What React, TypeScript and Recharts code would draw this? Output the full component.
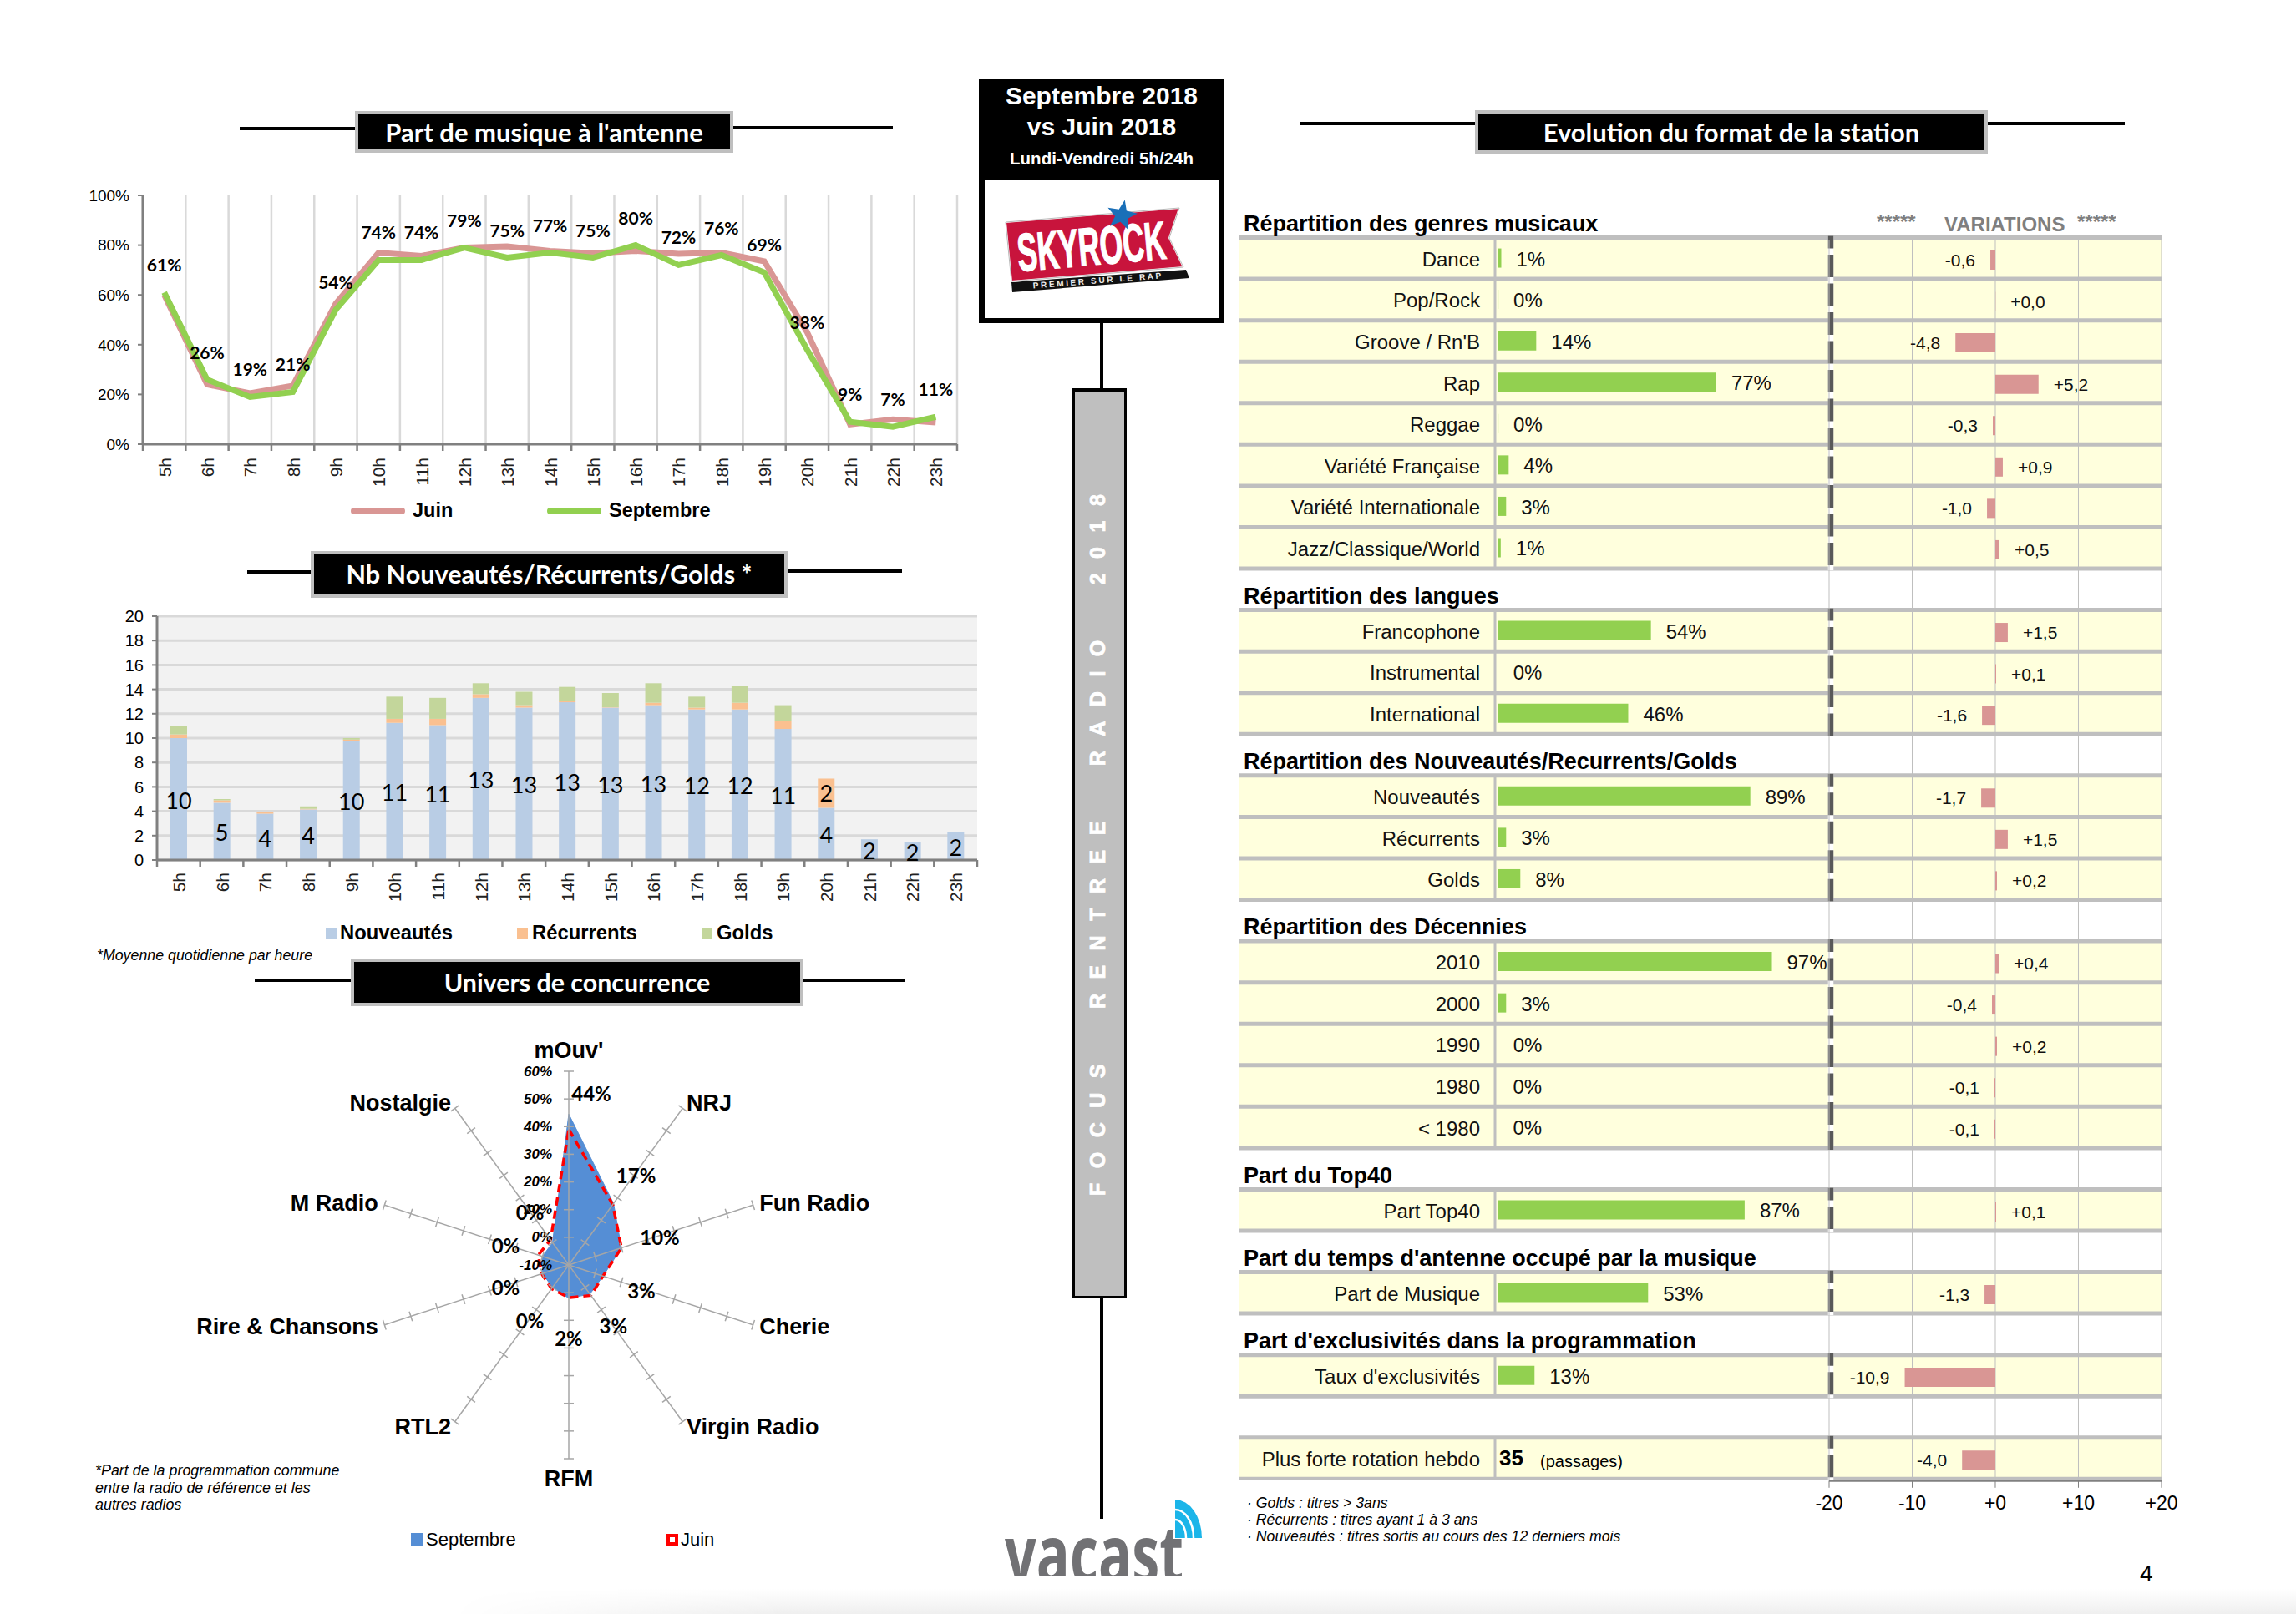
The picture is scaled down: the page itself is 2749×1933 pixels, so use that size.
import React from 'react';
import {
  LineChart, Line, BarChart, Bar, RadarChart, Radar, PolarAngleAxis, PolarRadiusAxis,
  XAxis, YAxis, CartesianGrid, Legend, LabelList, ReferenceArea,
} from 'recharts';

const ARIAL = '"Liberation Sans", Arial, sans-serif';
const CALIBRI = 'Lato, sans-serif';
const PINK = '#D99694';
const GREEN = '#92D050';

const HOURS = ['5h', '6h', '7h', '8h', '9h', '10h', '11h', '12h', '13h', '14h', '15h', '16h', '17h', '18h', '19h', '20h', '21h', '22h', '23h'];

// part de musique
const JUIN = [60, 24, 20.5, 23.5, 56.5, 77, 75.7, 79, 79.5, 77.7, 76.8, 77.7, 76.5, 77, 73.5, 45, 8, 10, 8.7];
const SEPTEMBRE = [61, 26, 19, 21, 54, 74, 74, 79, 75, 77, 75, 80, 72, 76, 69, 38, 9, 7, 11];

// nouveautes / recurrents / golds
const NOUVEAUTES = [10, 4.7, 3.8, 4.15, 9.77, 11.25, 11.06, 13.3, 12.5, 12.94, 12.5, 12.7, 12.35, 12.35, 10.75, 4.28, 1.7, 1.5, 2.28];
const RECURRENTS = [0.3, 0.2, 0.13, 0.05, 0.11, 0.33, 0.52, 0.3, 0.2, 0.12, 0.03, 0.2, 0.15, 0.55, 0.65, 2.4, 0, 0, 0];
const GOLDS = [0.7, 0.1, 0.02, 0.2, 0.12, 1.82, 1.72, 0.9, 1.1, 1.14, 1.17, 1.6, 0.9, 1.4, 1.3, 0, 0, 0, 0];

// univers de concurrence
const RADIOS = ["mOuv'", 'NRJ', 'Fun Radio', 'Cherie', 'Virgin Radio', 'RFM', 'RTL2', 'Rire & Chansons', 'M Radio', 'Nostalgie'];
const UNIVERS_SEPT = [44.5, 17.5, 10, 3, 3, 2, 0, 0, 0, 0];
const UNIVERS_JUIN = [39, 17, 10, 3, 3.6, 1.8, 0.6, 0.3, 1.6, 1.2];
const UNIVERS_LABELS = ['44%', '17%', '10%', '3%', '3%', '2%', '0%', '0%', '0%', '0%'];
const UNIVERS_LABEL_SHIFT = [[27, -25], [27, -34], [46, -13], [46, 17], [28, 38], [0, 48], [-27, 40], [-44, 16], [-44, -13], [-27, -37]];

// tableau de droite : une ligne par rangee, null = pas de barre
const ROW_LABELS = [
  'Répartition des genres musicaux', 'Dance', 'Pop/Rock', "Groove / Rn'B", 'Rap', 'Reggae', 'Variété Française', 'Variété Internationale', 'Jazz/Classique/World',
  'Répartition des langues', 'Francophone', 'Instrumental', 'International',
  'Répartition des Nouveautés/Recurrents/Golds', 'Nouveautés', 'Récurrents', 'Golds',
  'Répartition des Décennies', '2010', '2000', '1990', '1980', '< 1980',
  'Part du Top40', 'Part Top40',
  "Part du temps d'antenne occupé par la musique", 'Part de Musique',
  "Part d'exclusivités dans la programmation", "Taux d'exclusivités",
  ' ', 'Plus forte rotation hebdo',
];
const SHARES = [
  null, 1.3, 0.3, 13.6, 77, 0.3, 3.9, 3, 1.1,
  null, 54, 0.2, 46,
  null, 89, 3, 8,
  null, 96.6, 3, 0.2, 0.1, 0.1,
  null, 87,
  null, 53,
  null, 13,
  null, null,
];
const DELTAS = [
  null, -0.6, 0.02, -4.8, 5.2, -0.3, 0.9, -1.0, 0.5,
  null, 1.5, 0.1, -1.6,
  null, -1.7, 1.5, 0.2,
  null, 0.4, -0.4, 0.2, -0.1, -0.1,
  null, 0.1,
  null, -1.3,
  null, -10.9,
  null, -4.0,
];
const HEADER_ROWS = [0, 9, 13, 17, 23, 25, 27];
const ROW_GROUPS = [[1, 8], [10, 12], [14, 16], [18, 22], [24, 24], [26, 26], [28, 28], [30, 30]];
const DELTA_TICKS = [-20, -10, 0, 10, 20];
const FOOTNOTES = ['Golds : titres > 3ans', 'Récurrents : titres ayant 1 à 3 ans', 'Nouveautés : titres sortis au cours des 12 derniers mois'];

const lineData = HOURS.map((h, i) => ({ h, juin: JUIN[i], sept: SEPTEMBRE[i] }));
const barData = HOURS.map((h, i) => ({ h, n: NOUVEAUTES[i], r: RECURRENTS[i], g: GOLDS[i] }));
const radarData = RADIOS.map((radio, i) => ({ radio, sept: UNIVERS_SEPT[i], juin: UNIVERS_JUIN[i] }));
const tableData = ROW_LABELS.map((label, i) => ({ label, share: SHARES[i], delta: DELTAS[i] }));

const ROW_H = 49.56;

const fmtDelta = (v: any) => {
  if (v === null || v === undefined) return '';
  const s = Math.abs(v).toFixed(1).replace('.', ',');
  return v < 0 ? `-${s}` : `+${s}`;
};

const Abs = ({ x, y, color = '#000', font = ARIAL, size, bold, italic, align, children }: any) => (
  <div style={{
    position: 'absolute', left: align === 'center' ? x - 500 : x, top: y - 30, height: 60, lineHeight: '60px',
    width: align === 'center' ? 1000 : undefined, textAlign: align === 'center' ? 'center' : 'left',
    fontFamily: font, fontSize: size, fontWeight: bold ? 700 : 400, fontStyle: italic ? 'italic' : 'normal',
    color, whiteSpace: 'pre',
  }}>{children}</div>
);

const Rule = ({ x1, x2, y, h = 4 }: any) => (
  <div style={{ position: 'absolute', left: x1, top: y - h / 2, width: x2 - x1, height: h, background: '#000' }} />
);

const TitleBox = ({ x1, x2, y1, y2, lineX1, lineX2, lineY, text, size }: any) => (
  <>
    <Rule x1={lineX1} x2={lineX2} y={lineY} />
    <div style={{
      position: 'absolute', left: x1, top: y1, width: x2 - x1, height: y2 - y1, boxSizing: 'border-box',
      background: '#000', border: '4px solid #BFBFBF', color: '#fff', fontFamily: CALIBRI, fontWeight: 700,
      fontSize: size, textAlign: 'center', lineHeight: `${y2 - y1 - 8}px`,
    }}>{text}</div>
  </>
);

const HourTick = ({ x, y, payload, index, band, drop }: any) => (
  <g>
    <line x1={x - band / 2} x2={x - band / 2} y1={y} y2={y + 8} stroke="#808080" strokeWidth={2.5} />
    {index === HOURS.length - 1 && <line x1={x + band / 2} x2={x + band / 2} y1={y} y2={y + 8} stroke="#808080" strokeWidth={2.5} />}
    <text x={x + 8} y={y + drop} textAnchor="end" transform={`rotate(-90 ${x + 8} ${y + drop})`} fontFamily={ARIAL} fontSize={21} fill="#222">
      {payload.value}
    </text>
  </g>
);

const LEFT_1 = 171;
const RIGHT_1 = 1146;
const BAND_1 = (RIGHT_1 - LEFT_1) / HOURS.length;
const gridX1 = Array.from({ length: HOURS.length + 1 }, (_, i) => LEFT_1 + i * BAND_1);

const MusicLegend = () => (
  <>
    <div style={{ position: 'absolute', left: 420, top: 608, width: 65, height: 8, borderRadius: 4, background: PINK }} />
    <Abs x={494} y={611} size={23.5} bold>Juin</Abs>
    <div style={{ position: 'absolute', left: 655, top: 608, width: 65, height: 8, borderRadius: 4, background: GREEN }} />
    <Abs x={729} y={611} size={23.5} bold>Septembre</Abs>
  </>
);

const MusicChart = () => (
  <div style={{ position: 'absolute', left: 0, top: 0 }}>
    <LineChart width={1200} height={660} data={lineData} margin={{ left: LEFT_1 - 50, top: 234, right: 1200 - RIGHT_1, bottom: 68 }}>
      <CartesianGrid horizontal={false} verticalPoints={gridX1} stroke="#D9D9D9" strokeWidth={2.5} />
      <XAxis dataKey="h" interval={0} height={60} tickSize={0} tickMargin={0} tickLine={false}
        padding={{ left: BAND_1 / 2, right: BAND_1 / 2 }}
        axisLine={{ stroke: '#808080', strokeWidth: 3 }}
        tick={(p: any) => <HourTick {...p} band={BAND_1} drop={16} />} />
      <YAxis width={50} domain={[0, 100]} ticks={[0, 20, 40, 60, 80, 100]} tickSize={6} tickMargin={10}
        tickFormatter={(v: number) => `${v}%`}
        axisLine={{ stroke: '#808080', strokeWidth: 3 }} tickLine={{ stroke: '#808080', strokeWidth: 2 }}
        tick={{ fontFamily: ARIAL, fontSize: 19, fill: '#000' }} />
      <Line dataKey="juin" stroke={PINK} strokeWidth={7} dot={false} isAnimationActive={false} />
      <Line dataKey="sept" stroke={GREEN} strokeWidth={7} dot={false} isAnimationActive={false}>
        <LabelList dataKey="sept" position="top" offset={25} formatter={(v: any) => `${v}%`}
          fontFamily={CALIBRI} fontWeight={700} fontSize={21} fill="#000" />
      </Line>
      <Legend content={() => <MusicLegend />} wrapperStyle={{ position: 'absolute', left: 0, top: 0, width: 0, height: 0 }} />
    </LineChart>
  </div>
);

const LEFT_2 = 188;
const RIGHT_2 = 1170;
const BAND_2 = (RIGHT_2 - LEFT_2) / HOURS.length;

const NbLegend = () => (
  <>
    {[[390, 407, '#B9CDE5', 'Nouveautés'], [619, 637, '#FAC090', 'Récurrents'], [840, 858, '#C3D69B', 'Golds']].map(([sx, tx, c, t]: any) => (
      <React.Fragment key={t}>
        <div style={{ position: 'absolute', left: sx, top: 1111, width: 13, height: 13, background: c }} />
        <Abs x={tx} y={1117} size={23.8} bold>{t}</Abs>
      </React.Fragment>
    ))}
  </>
);

const NbChart = () => (
  <div style={{ position: 'absolute', left: 0, top: 0 }}>
    <BarChart width={1200} height={1100} data={barData} barSize={20} margin={{ left: LEFT_2 - 50, top: 738, right: 1200 - RIGHT_2, bottom: 10 }}>
      <CartesianGrid vertical={false} fill="#F2F2F2" stroke="#D9D9D9" strokeWidth={3} />
      <XAxis dataKey="h" interval={0} height={60} tickSize={0} tickMargin={0} tickLine={false}
        axisLine={{ stroke: '#808080', strokeWidth: 3 }}
        tick={(p: any) => <HourTick {...p} band={BAND_2} drop={15} />} />
      <YAxis width={50} domain={[0, 20]} ticks={[0, 2, 4, 6, 8, 10, 12, 14, 16, 18, 20]} tickSize={6} tickMargin={10}
        axisLine={{ stroke: '#808080', strokeWidth: 3 }} tickLine={{ stroke: '#808080', strokeWidth: 2 }}
        tick={{ fontFamily: ARIAL, fontSize: 20, fill: '#000' }} />
      <Bar dataKey="n" stackId="a" fill="#B9CDE5" isAnimationActive={false}>
        <LabelList dataKey="n" position="center" formatter={(v: any) => Math.round(v)} fontFamily={CALIBRI} fontSize={27} fill="#000" dy={2} />
      </Bar>
      <Bar dataKey="r" stackId="a" fill="#FAC090" isAnimationActive={false}>
        <LabelList dataKey="r" position="center" formatter={(v: any) => (v >= 1 ? Math.round(v) : '')} fontFamily={CALIBRI} fontSize={27} fill="#000" />
      </Bar>
      <Bar dataKey="g" stackId="a" fill="#C3D69B" isAnimationActive={false} />
      <Legend content={() => <NbLegend />} wrapperStyle={{ position: 'absolute', left: 0, top: 0, width: 0, height: 0 }} />
    </BarChart>
  </div>
);

const RADAR_X = 200;
const RADAR_Y = 1200;
const CX = 681 - RADAR_X;
const CY = 1515 - RADAR_Y;
const RADAR_R = 232;

const RadioTick = ({ x, y, payload, index, textAnchor }: any) => {
  let dy = 0;
  if (index === 0) dy = -17;
  if (index === 5) dy = 16;
  return (
    <text x={x} y={y + dy} textAnchor={textAnchor} dominantBaseline="central" fontFamily={ARIAL} fontWeight={700} fontSize={27} fill="#000">
      {payload.value}
    </text>
  );
};

// le rayon porte les graduations : on les repete sur chaque branche de l'etoile
const SpokeTick = ({ y, payload }: any) => {
  const r = CY - y;
  return (
    <g>
      {RADIOS.map((name, i) => {
        const a = (i * 36 * Math.PI) / 180;
        const px = CX + r * Math.sin(a);
        const py = CY - r * Math.cos(a);
        const dx = 6 * Math.cos(a);
        const dy = 6 * Math.sin(a);
        return (
          <g key={name}>
            {payload.value === 60 && <line x1={CX} y1={CY} x2={px} y2={py} stroke="#A6A6A6" strokeWidth={1.5} />}
            {payload.value > -10 && <line x1={px - dx} y1={py - dy} x2={px + dx} y2={py + dy} stroke="#A6A6A6" strokeWidth={1.5} />}
          </g>
        );
      })}
      <text x={CX - 20} y={y} textAnchor="end" dominantBaseline="central" fontFamily={ARIAL} fontWeight={700} fontStyle="italic" fontSize={17} fill="#000">
        {payload.value}%
      </text>
    </g>
  );
};

const UniversLabel = (p: any) => {
  const shift = UNIVERS_LABEL_SHIFT[p.index];
  if (!shift) return null;
  return (
    <text x={p.x + shift[0]} y={p.y + shift[1]} textAnchor="middle" dominantBaseline="central" fontFamily={CALIBRI} fontWeight={700} fontSize={24} fill="#000">
      {UNIVERS_LABELS[p.index]}
    </text>
  );
};

const UniversLegend = () => (
  <>
    <div style={{ position: 'absolute', left: 492 - RADAR_X, top: 1836 - RADAR_Y, width: 15, height: 15, background: '#558ED5' }} />
    <Abs x={510 - RADAR_X} y={1844 - RADAR_Y} size={22}>Septembre</Abs>
    <div style={{ position: 'absolute', left: 798 - RADAR_X, top: 1837 - RADAR_Y, width: 14, height: 14, boxSizing: 'border-box', border: '4px solid #FF0000' }} />
    <Abs x={815 - RADAR_X} y={1844 - RADAR_Y} size={22}>Juin</Abs>
  </>
);

const UniversChart = () => (
  <div style={{ position: 'absolute', left: RADAR_X, top: RADAR_Y }}>
    <RadarChart width={960} height={680} data={radarData} cx={CX} cy={CY} outerRadius={RADAR_R} margin={{ left: 0, right: 0, top: 0, bottom: 0 }}>
      <PolarAngleAxis dataKey="radio" tickLine={false} axisLine={false} tick={(p: any) => <RadioTick {...p} />} />
      <Radar dataKey="sept" fill="#558ED5" fillOpacity={1} stroke="#558ED5" isAnimationActive={false} label={UniversLabel} />
      <Radar dataKey="juin" fill="none" fillOpacity={0} stroke="#FF0000" strokeWidth={3.5} strokeDasharray="10 6" isAnimationActive={false} />
      <PolarRadiusAxis angle={90} domain={[-10, 60]} ticks={[-10, 0, 10, 20, 30, 40, 50, 60]} tickCount={8}
        axisLine={false} tick={(p: any) => <SpokeTick {...p} />} />
      <Legend content={() => <UniversLegend />} wrapperStyle={{ position: 'absolute', left: 0, top: 0, width: 0, height: 0 }} />
    </RadarChart>
  </div>
);

const TABLE_X = 1483;
const TABLE_Y = 235.4;
const TABLE_W = 1105;

const RowTick = ({ y, payload, index }: any) => {
  if (HEADER_ROWS.includes(index)) {
    return <text x={6} y={y + 8} dominantBaseline="central" fontFamily={ARIAL} fontWeight={700} fontSize={27} fill="#000">{payload.value}</text>;
  }
  return <text x={289} y={y + 1} textAnchor="end" dominantBaseline="central" fontFamily={ARIAL} fontSize={24} fill="#111">{payload.value}</text>;
};

const GroupShape = ({ x, y, width, height }: any) => {
  const n = Math.round(height / ROW_H);
  return (
    <g>
      <rect x={x} y={y} width={width} height={height} fill="#FFFFDD" />
      <line x1={x + 307} x2={x + 307} y1={y} y2={y + height} stroke="#BFBFBF" strokeWidth={3} />
      {Array.from({ length: n + 1 }, (_, k) => (
        <line key={k} x1={x} x2={x + width} y1={y + k * ROW_H} y2={y + k * ROW_H} stroke="#BFBFBF" strokeWidth={5} />
      ))}
      <line x1={x + 709} x2={x + 709} y1={y - 2} y2={y + height + 2} stroke="#fff" strokeWidth={6.5} />
      <line x1={x + 709} x2={x + 709} y1={y - 2} y2={y + height + 2} stroke="#595959" strokeWidth={6.5} strokeDasharray="27 7.5" strokeDashoffset={12} />
    </g>
  );
};

const SharesChart = () => (
  <div style={{ position: 'absolute', left: TABLE_X, top: TABLE_Y }}>
    <BarChart width={TABLE_W} height={ROW_H * ROW_LABELS.length} data={tableData} layout="vertical" barSize={23} margin={{ left: 0, right: 0, top: 0, bottom: 0 }}>
      <XAxis type="number" hide domain={[-91.2, 233.8]} />
      <YAxis type="category" dataKey="label" mirror interval={0} axisLine={false} tickLine={false} tick={(p: any) => <RowTick {...p} />} />
      {ROW_GROUPS.map(([a, b]) => (
        <ReferenceArea key={a} y1={ROW_LABELS[a]} y2={ROW_LABELS[b]} shape={(p: any) => <GroupShape {...p} />} />
      ))}
      <Bar dataKey="share" fill={GREEN} isAnimationActive={false}>
        <LabelList dataKey="share" position="right" offset={18} dy={1} formatter={(v: any) => (v === null || v === undefined ? '' : `${Math.round(v)}%`)}
          fontFamily={ARIAL} fontSize={24} fill="#111" />
      </Bar>
    </BarChart>
  </div>
);

const DeltasChart = () => (
  <div style={{ position: 'absolute', left: 2090, top: TABLE_Y + ROW_H + 2 }}>
    <BarChart width={540} height={ROW_H * 30 + 50} data={tableData.slice(1)} layout="vertical" barSize={23} margin={{ left: 100, right: 42, top: 0, bottom: 0 }}>
      <CartesianGrid horizontal={false} stroke="#BFBFBF" strokeWidth={1} />
      <XAxis type="number" domain={[-20, 20]} ticks={DELTA_TICKS} height={50} tickSize={8} tickMargin={10} interval={0}
        tickFormatter={(v: number) => (v < 0 ? `${v}` : `+${v}`)}
        axisLine={{ stroke: '#808080', strokeWidth: 2 }} tickLine={{ stroke: '#808080', strokeWidth: 1 }}
        tick={{ fontFamily: ARIAL, fontSize: 23, fill: '#000' }} />
      <YAxis type="category" dataKey="label" hide />
      <Bar dataKey="delta" fill={PINK} isAnimationActive={false}>
        <LabelList dataKey="delta" position="right" offset={18} formatter={fmtDelta} fontFamily={ARIAL} fontSize={21} fill="#111" />
      </Bar>
    </BarChart>
  </div>
);

const starPoints = (cx: number, cy: number, r: number) =>
  Array.from({ length: 10 }, (_, i) => {
    const rad = i % 2 === 0 ? r : r * 0.42;
    const a = (Math.PI * i) / 5 + 0.2;
    return `${cx + rad * Math.sin(a)},${cy - rad * Math.cos(a)}`;
  }).join(' ');

const CenterColumn = () => (
  <>
    <div style={{ position: 'absolute', left: 1172, top: 95, width: 294, height: 292, background: '#000' }} />
    <div style={{ position: 'absolute', left: 1179, top: 215, width: 280, height: 166, background: '#fff' }} />
    <Abs x={1319} y={115} size={30} bold align="center" color="#fff">Septembre 2018</Abs>
    <Abs x={1319} y={152} size={30} bold align="center" color="#fff">vs Juin 2018</Abs>
    <Abs x={1319} y={190} size={20.5} bold align="center" color="#fff">Lundi-Vendredi 5h/24h</Abs>
    <div style={{ position: 'absolute', left: 1317, top: 387, width: 4, height: 78, background: '#000' }} />
    <div style={{ position: 'absolute', left: 1317, top: 1555, width: 4, height: 264, background: '#000' }} />
    <div style={{ position: 'absolute', left: 1284, top: 465, width: 65, height: 1090, boxSizing: 'border-box', background: '#BFBFBF', border: '3px solid #000', borderTopWidth: 4 }} />
    <svg width={2749} height={1933} style={{ position: 'absolute', left: 0, top: 0 }}>
      <polygon points="1211,338 1420,323 1424,333 1212,350" fill="#111" />
      <polygon points="1204,266 1412,249 1400,285 1417,320 1211,337" fill="#C8143C" stroke="#fff" strokeWidth={2} />
      <polygon points="1204,266 1412,249 1400,285 1417,320 1211,337" fill="none" stroke="#B9B9B9" strokeWidth={1} />
      <text x={0} y={0} transform="translate(1220 325) rotate(-5)" fontFamily={ARIAL} fontWeight={700} fontSize={64} fill="#fff" stroke="#fff" strokeWidth={1.5}
        textLength={178} lengthAdjust="spacingAndGlyphs">SKYROCK</text>
      <text x={0} y={0} transform="translate(1237 345.5) rotate(-4.5)" fontFamily={ARIAL} fontWeight={700} fontSize={10} fill="#eee"
        textLength={154} lengthAdjust="spacing">PREMIER SUR LE RAP</text>
      <polygon points={starPoints(1343, 258, 19)} fill="#1A6FB8" />
      <text x={1323} y={1432} transform="rotate(-90 1323 1432)" fontFamily={ARIAL} fontWeight={700} fontSize={25} fill="#fff" stroke="#fff" strokeWidth={0.8}
        letterSpacing={17.5} style={{ whiteSpace: 'pre' }}>{'FOCUS  RENTREE  RADIO  2018'}</text>
      <path d="M1407,1796 A32,46 0 0 1 1439,1842 L1407,1842 Z" fill="#1BB5E9" />
      <path d="M1407,1808 A22,34 0 0 1 1429,1842" fill="none" stroke="#fff" strokeWidth={2.5} />
      <path d="M1407,1820 A13,22 0 0 1 1420,1842" fill="none" stroke="#fff" strokeWidth={2.5} />
    </svg>
    <div style={{ position: 'absolute', left: 1190, top: 1800, width: 240, height: 87, overflow: 'hidden' }}>
      <svg width={240} height={120} style={{ display: 'block' }}>
        <text x={13} y={96} fontFamily='"Open Sans", sans-serif' fontWeight={700} fontSize={96} fill="#717174" textLength={214} lengthAdjust="spacingAndGlyphs">vacast</text>
      </svg>
    </div>
  </>
);

const Notes = () => (
  <>
    <Abs x={116} y={1144} size={17.8} italic>*Moyenne quotidienne par heure</Abs>
    <Abs x={114} y={1761} size={17.9} italic>*Part de la programmation commune</Abs>
    <Abs x={114} y={1782} size={17.9} italic>entre la radio de référence et les</Abs>
    <Abs x={114} y={1802} size={17.9} italic>autres radios</Abs>
    {FOOTNOTES.map((t, i) => (
      <Abs key={t} x={1493} y={1800 + i * 20} size={17.7} italic>{`· ${t}`}</Abs>
    ))}
    <Abs x={2247} y={266} size={24} bold color="#7F7F7F">*****</Abs>
    <Abs x={2328} y={269} size={24} bold color="#7F7F7F">VARIATIONS</Abs>
    <Abs x={2487} y={266} size={24} bold color="#7F7F7F">*****</Abs>
    <Abs x={1795} y={1746} size={26} bold>35</Abs>
    <Abs x={1844} y={1750} size={20}>(passages)</Abs>
    <Abs x={2562} y={1885} size={28}>4</Abs>
    <div style={{
      position: 'absolute', left: 540, top: 1903, width: 2209, height: 30,
      background: 'linear-gradient(#ffffff, #efefef)',
      WebkitMaskImage: 'linear-gradient(to right, transparent, black 400px)',
    }} />
  </>
);

export default function App() {
  return (
    <div style={{ position: 'absolute', left: 0, top: 0, width: 2749, height: 1933, background: '#fff', overflow: 'hidden' }}>
      <TitleBox x1={425} x2={878} y1={133} y2={183} lineX1={287} lineX2={425} lineY={154} text="Part de musique à l'antenne" size={31} />
      <TitleBox x1={372} x2={943} y1={660} y2={716} lineX1={296} lineX2={372} lineY={685} text="Nb Nouveautés/Récurrents/Golds *" size={30.6} />
      <TitleBox x1={420} x2={962} y1={1148} y2={1205} lineX1={305} lineX2={1083} lineY={1174} text="Univers de concurrence" size={30.4} />
      <Rule x1={878} x2={1069} y={153} />
      <Rule x1={943} x2={1080} y={684} />
      <TitleBox x1={1766} x2={2380} y1={132} y2={184} lineX1={1557} lineX2={2544} lineY={148} text="Evolution du format de la station" size={31} />
      <MusicChart />
      <NbChart />
      <UniversChart />
      <SharesChart />
      <DeltasChart />
      <CenterColumn />
      <Notes />
    </div>
  );
}
